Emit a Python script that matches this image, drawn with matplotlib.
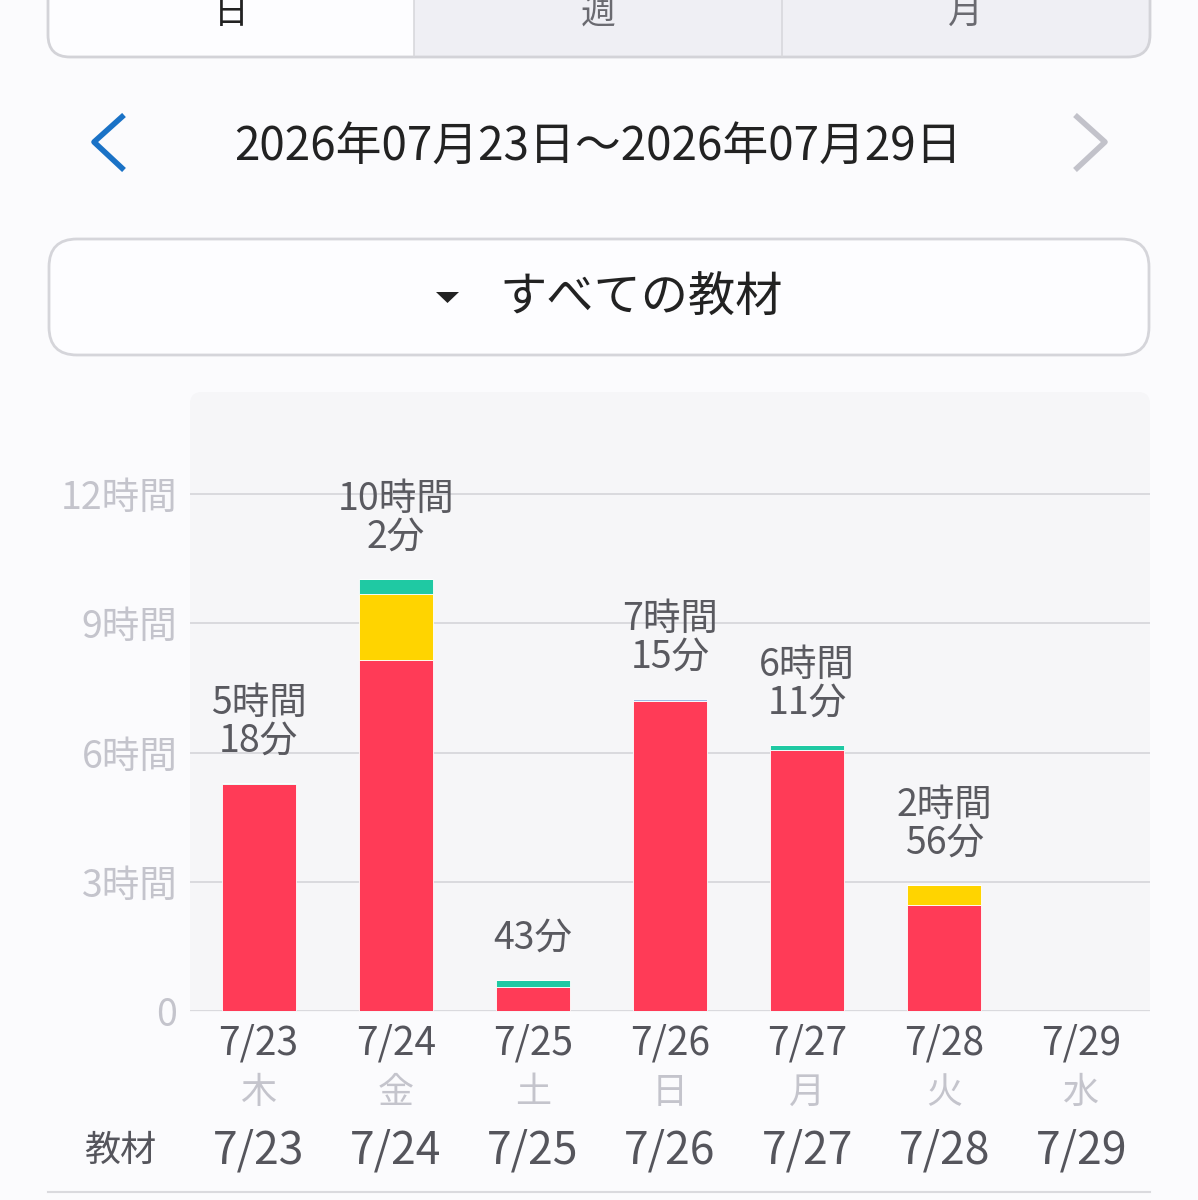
import matplotlib.pyplot as plt
from matplotlib.patches import FancyBboxPatch, Rectangle, Polygon

plt.rcParams['font.family'] = ['Noto Sans CJK JP', 'DejaVu Sans']

# data (hours per material, stacked)
dates = ['7/23', '7/24', '7/25', '7/26', '7/27', '7/28', '7/29']
weekdays = ['木', '金', '土', '日', '月', '火', '水']
red = [5.26, 8.15, 0.55, 7.19, 6.06, 2.45, 0]
yellow = [0, 1.53, 0, 0, 0, 0.48, 0]
teal = [0.04, 0.35, 0.17, 0, 0.12, 0, 0]
blue = [0, 0, 0, 0.05, 0, 0, 0]
total_min = [318, 602, 43, 435, 371, 176, 0]
yticks = [0, 3, 6, 9, 12]
ytick_labels = ['0', '3時間', '6時間', '9時間', '12時間']
tabs = ['日', '週', '月']
period = '2026年07月23日～2026年07月29日'
material = 'すべての教材'

W, H = 1198, 1200
BG = '#fbfbfd'
DARK = '#55555c'
LIGHT = '#c4c4cc'
LINE = '#dadade'

fig = plt.figure(figsize=(W / 100, H / 100), dpi=100, facecolor=BG)

# overlay in pixel coordinates for the app chrome
ui = fig.add_axes([0, 0, 1, 1])
ui.set_xlim(0, W)
ui.set_ylim(H, 0)
ui.axis('off')

# segmented control
ui.add_patch(FancyBboxPatch((48, -40), 1102, 97, boxstyle='round,pad=0,rounding_size=22',
                            fc='#efeff4', ec='none'))
ui.add_patch(FancyBboxPatch((48, -40), 366, 97, boxstyle='round,pad=0,rounding_size=22',
                            fc='#fdfdff', ec='none'))
ui.add_patch(Rectangle((380, -40), 34, 97, fc='#fdfdff', ec='none'))
ui.add_patch(FancyBboxPatch((48, -40), 1102, 97, boxstyle='round,pad=0,rounding_size=22',
                            fc='none', ec='#d3d3d8', lw=2))
for sx in [414, 782]:
    ui.plot([sx, sx], [-40, 56], color='#d8d8dc', lw=1.2)
for tx, t, c in zip([231, 598, 965], tabs, ['#222222', '#6a6a70', '#6a6a70']):
    ui.text(tx, 13, t, fontsize=25, color=c, ha='center', va='center')

# date navigation
ui.plot([124, 94, 124], [115, 142, 170], color='#1a72c6', lw=4, solid_capstyle='butt')
ui.plot([1075, 1105, 1075], [115, 142, 170], color='#c2c2ca', lw=4, solid_capstyle='butt')
ui.text(598, 147, period, fontsize=33, color='#222222', ha='center', va='center')

# material dropdown
ui.add_patch(FancyBboxPatch((49, 239), 1100, 116, boxstyle='round,pad=0,rounding_size=28',
                            fc='#fdfdff', ec='#d5d5da', lw=2))
ui.add_patch(Polygon([[436, 292], [459, 292], [447.5, 303]], closed=True, fc='#222222', ec='none'))
ui.text(499, 299, material, fontsize=34, color='#222222', ha='left', va='center')

# chart background
ui.add_patch(FancyBboxPatch((190, 392), 960, 640, boxstyle='round,pad=0,rounding_size=12',
                            fc='#f6f6f8', ec='none'))
ui.add_patch(Rectangle((190, 1012), 960, 30, fc=BG, ec='none'))

# bottom line
ui.plot([48, 1150], [1192, 1192], color=LINE, lw=1.5)

# chart axes
px_per_h = 43.07
top_h = (1011 - 392) / px_per_h
ax = fig.add_axes([190 / W, (H - 1011) / H, 960 / W, (1011 - 392) / H])
ax.set_facecolor('none')
ax.set_xlim(-0.5, 6.5)
ax.set_ylim(0, top_h)
for s in ax.spines.values():
    s.set_visible(False)

for yv in yticks:
    ax.axhline(yv, color='#d8d8dc', lw=1.3, zorder=0)

x = list(range(len(dates)))
bw = 0.54
bottom = [0] * len(dates)
for vals, col in [(red, '#ff3b57'), (yellow, '#ffd400'), (teal, '#1fc9a3'), (blue, '#9cb8e2')]:
    ax.bar(x, vals, bw, bottom=bottom, color=col, edgecolor='white', linewidth=0.6, zorder=2)
    bottom = [b + v for b, v in zip(bottom, vals)]


def fmt(m):
    h, mm = divmod(m, 60)
    if h == 0:
        return f'{mm}分'
    return f'{h}時間\n{mm}分'


for xi, tot, m in zip(x, bottom, total_min):
    if m == 0:
        continue
    ax.annotate(fmt(m), (xi, tot), xytext=(0, 16), textcoords='offset points',
                ha='center', va='bottom', fontsize=27, color='#5a5a60', linespacing=0.95)

ax.set_yticks(yticks)
ax.set_yticklabels(ytick_labels, fontsize=27, color=LIGHT)
ax.tick_params(axis='y', length=0, pad=9)
ax.set_xticks([])


def ay(py):
    return (1011 - py) / (1011 - 392)


tr = ax.get_xaxis_transform()
for xi, d, wd in zip(x, dates, weekdays):
    ax.text(xi, ay(1043), d, transform=tr, fontsize=28, color=DARK, ha='center', va='center')
    ax.text(xi, ay(1093), wd, transform=tr, fontsize=26, color=LIGHT, ha='center', va='center')
    ax.text(xi, ay(1151), d, transform=tr, fontsize=32, color=DARK, ha='center', va='center')

ui.text(120, 1151, '教材', fontsize=26, color=DARK, ha='center', va='center')

fig.savefig('out.png', dpi=100, facecolor=BG)
